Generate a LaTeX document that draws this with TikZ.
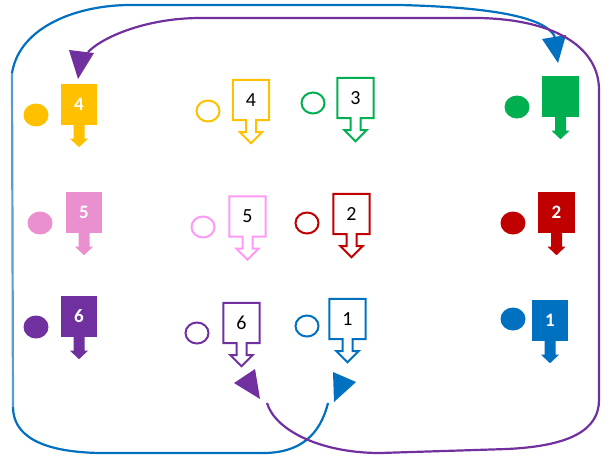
\documentclass[tikz,border=0pt]{standalone}
\usepackage{fontspec}
\setmainfont{Carlito}
\usetikzlibrary{shapes.geometric}
\definecolor{cyellow}{HTML}{FFC000}
\definecolor{cgreen}{HTML}{00B050}
\definecolor{cred}{HTML}{C00000}
\definecolor{cblue}{HTML}{0070C0}
\definecolor{cbluelight}{HTML}{5B9BD5}
\definecolor{cpurple}{HTML}{7030A0}
\definecolor{cpinkfill}{HTML}{EA90CE}
\definecolor{cpinkline}{HTML}{FF99F5}
\tikzset{
  fbox/.style={rectangle, minimum width=36.5pt, minimum height=41pt, inner sep=0pt,
    text=white, font=\fontsize{19}{19}\selectfont\bfseries},
  obox/.style={rectangle, minimum width=36pt, minimum height=40pt, inner sep=0pt,
    text=black, font=\fontsize{20}{20}\selectfont},
  fdot/.style={ellipse, minimum width=25pt, minimum height=23pt, inner sep=0pt},
  odot/.style={ellipse, minimum width=23pt, minimum height=21pt, inner sep=0pt, line width=2pt},
  loop/.style={line width=2.2pt, line cap=butt},
}
\newcommand\farrow[2]{%
  \fill[#2] ([xshift=-5.5pt]#1.south) -- ++(0,13.5) -- ++(-3.5,0) -- ++(9,8.5)
    -- ++(9,-8.5) -- ++(-3.5,0) -- ++(0,-13.5) -- cycle;}
\newcommand\oarrow[2]{%
  \draw[#2, line width=2pt, line join=miter] (#1.north west) -- (#1.north east)
    -- (#1.south east) -- ([xshift=5pt]#1.south) -- ++(0,12) -- ++(6,0)
    -- ++(-11,11) -- ++(-11,-11) -- ++(6,0) -- ++(0,-12) -- (#1.south west) -- cycle;}
\begin{document}
\begin{tikzpicture}[x=1pt,y=-1pt]
\useasboundingbox (0,0) rectangle (609,459);
% filled column left
\node[fdot, fill=cyellow] (dy) at (36,115) {};
\node[fbox, fill=cyellow] (by) at (79,104.5) {4};
\farrow{by}{cyellow}
\node[fdot, fill=cpinkfill] (dp) at (40,223) {};
\node[fbox, fill=cpinkfill] (bp) at (84,212.5) {5};
\farrow{bp}{cpinkfill}
\node[fdot, fill=cpurple] (du) at (36,327) {};
\node[fbox, fill=cpurple] (bu) at (79,316.5) {6};
\farrow{bu}{cpurple}
% filled column right
\node[fdot, fill=cgreen] (dg) at (517,107) {};
\node[fbox, fill=cgreen] (bg) at (560.5,96.5) {};
\farrow{bg}{cgreen}
\node[fdot, fill=cred] (dr) at (513,223) {};
\node[fbox, fill=cred] (br) at (556.5,212.5) {2};
\farrow{br}{cred}
\node[fdot, fill=cblue] (db) at (513,319) {};
\node[fbox, fill=cblue] (bb) at (550,320.5) {1};
\farrow{bb}{cblue}
% outline middle
\node[odot, draw=cyellow] (oy) at (208,111) {};
\node[obox] (qy) at (251,100) {4};
\oarrow{qy}{cyellow}
\node[odot, draw=cgreen] (og) at (313,103) {};
\node[obox] (qg) at (355.5,98) {3};
\oarrow{qg}{cgreen}
\node[odot, draw=cpinkline] (op) at (203,227) {};
\node[obox] (qp) at (247.5,216.5) {5};
\oarrow{qp}{cpinkline}
\node[odot, draw=cred] (or) at (307,223) {};
\node[obox] (qr) at (351.5,214) {2};
\oarrow{qr}{cred}
\node[odot, draw=cpurple] (ou) at (197,333) {};
\node[obox] (qu) at (241.5,323) {6};
\oarrow{qu}{cpurple}
\node[odot, draw=cblue] (ob) at (307,326) {};
\node[obox] (qb) at (347.5,319) {1};
\oarrow{qb}{cblue}
% blue loop
\coordinate (bstart) at (328,403);
\coordinate (bend) at (555,37);
\draw[loop, cblue] (bstart) .. controls (320,435) and (300,453) .. (263,453) -- (100,453)
  .. controls (40,452) and (13,435) .. (13,407);
\draw[loop, cbluelight] (13,407) -- (12,73);
\draw[loop, cblue] (12,73) .. controls (20,25) and (80,5) .. (130,5) -- (400,5)
  .. controls (480,7) and (545,15) .. (bend);
\fill[cblue] (542,39) -- (566,35) -- (558,63) -- cycle;
\fill[cblue] (333,372) -- (356,382) -- (334,402) -- cycle;
% purple loop
\coordinate (pstart) at (267,403);
\coordinate (pend) at (88,52);
\draw[loop, cpurple] (pstart) .. controls (275,430) and (320,453) .. (380,453) -- (507,449)
  .. controls (570,446) and (599,430) .. (599,400) -- (599,90)
  .. controls (599,50) and (560,20) .. (480,18) -- (200,18)
  .. controls (150,18) and (105,35) .. (pend);
\fill[cpurple] (69,50) -- (94,53) -- (78,79) -- cycle;
\fill[cpurple] (234,383) -- (255,369) -- (260,399) -- cycle;
\end{tikzpicture}
\end{document}
